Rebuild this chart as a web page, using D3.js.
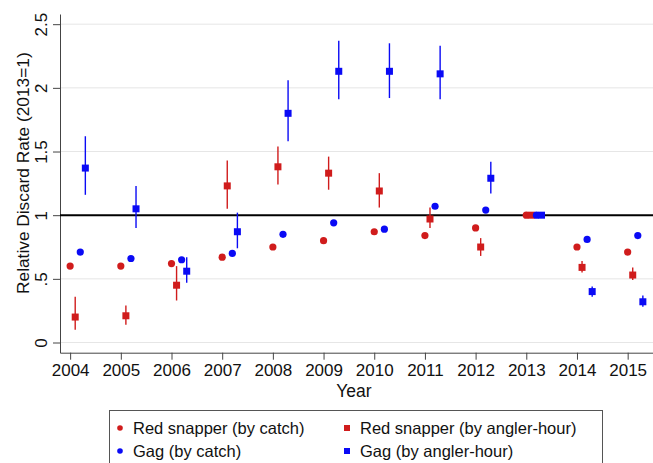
<!DOCTYPE html>
<html><head><meta charset="utf-8">
<script src="https://cdn.jsdelivr.net/npm/d3@7"></script>
<style>body{margin:0;background:#fff}svg{display:block;font-family:"Liberation Sans",Arial,sans-serif}</style>
</head><body><svg id="c" width="653" height="463"></svg>
<script>
const years = [2004,2005,2006,2007,2008,2009,2010,2011,2012,2013,2014,2015];
const yTicks = [0,0.5,1,1.5,2,2.5];
const yTickLabels = ["0",".5","1","1.5","2","2.5"];
const rsCatch = [0.60,0.60,0.62,0.67,0.75,0.80,0.87,0.84,0.90,1,0.75,0.71];
const gagCatch = [0.71,0.66,0.65,0.70,0.85,0.94,0.89,1.07,1.04,1,0.81,0.84];
const rsHour = [0.20,0.21,0.45,1.23,1.38,1.33,1.19,0.97,0.75,1,0.59,0.53];
const rsHourLo = [0.10,0.14,0.33,1.05,1.24,1.20,1.06,0.90,0.68,1,0.55,0.49];
const rsHourHi = [0.36,0.29,0.60,1.43,1.54,1.46,1.33,1.06,0.82,1,0.64,0.59];
const gagHour = [1.37,1.05,0.56,0.87,1.80,2.13,2.13,2.11,1.29,1,0.40,0.32];
const gagHourLo = [1.16,0.90,0.47,0.74,1.58,1.91,1.92,1.91,1.17,1,0.36,0.28];
const gagHourHi = [1.62,1.23,0.67,1.02,2.06,2.37,2.35,2.33,1.42,1,0.44,0.37];
const legendLabels = ["Red snapper (by catch)","Red snapper (by angler-hour)","Gag (by catch)","Gag (by angler-hour)"];

const RED = "#d01c1c", BLUE = "#0a0af5";
const svg = d3.select("#c");
const x = d3.scaleLinear().domain([2003.8, 2015.5]).range([60, 653]);
const y = d3.scaleLinear().domain([-0.08, 2.58]).range([352.7, 14]);

// gridlines
svg.append("g").selectAll("line").data(yTicks.filter(t=>t!==1)).join("line")
  .attr("x1",60).attr("x2",653).attr("y1",d=>y(d)).attr("y2",d=>y(d))
  .attr("stroke","#e6e6e6").attr("stroke-width",1);

// axes
const yAxis = d3.axisLeft(y).tickValues(yTicks).tickFormat((d,i)=>yTickLabels[i]).tickSize(7).tickSizeOuter(0);
const gy = svg.append("g").attr("transform","translate(60,0)").call(yAxis);
gy.select(".domain").attr("stroke","#444");
gy.selectAll(".tick line").attr("stroke","#444");
gy.selectAll(".tick text").attr("font-size",17).attr("fill","#111")
  .attr("transform","rotate(-90)").attr("x",0).attr("y",-13).attr("dy",0)
  .attr("text-anchor","middle");

const xAxis = d3.axisBottom(x).tickValues(years).tickFormat(d3.format("d")).tickSize(7).tickSizeOuter(0);
const gx = svg.append("g").attr("transform","translate(0,352.7)").call(xAxis);
gx.select(".domain").attr("stroke","#444");
gx.selectAll(".tick line").attr("stroke","#444");
gx.selectAll(".tick text").attr("font-size",17).attr("fill","#111").attr("y",11);

// reference line at 1
svg.append("line").attr("x1",60).attr("x2",653).attr("y1",y(1)).attr("y2",y(1))
  .attr("stroke","#000").attr("stroke-width",2);

// titles
svg.append("text").attr("x",x(2009.6)).attr("y",397).attr("text-anchor","middle")
  .attr("font-size",17.5).attr("fill","#111").text("Year");
svg.append("text").attr("transform",`translate(29,${y(1.33)}) rotate(-90)`).attr("text-anchor","middle")
  .attr("font-size",17.3).attr("fill","#111").text("Relative Discard Rate (2013=1)");

// series
function circles(vals, off, color){
  svg.append("g").selectAll("circle").data(years).join("circle")
    .attr("cx",(d)=>x(d+off)).attr("cy",(d,i)=>y(vals[i])).attr("r",3.6).attr("fill",color);
}
function squares(vals, lo, hi, off, color){
  const g = svg.append("g");
  g.selectAll("line").data(years).join("line")
    .attr("x1",d=>x(d+off)).attr("x2",d=>x(d+off))
    .attr("y1",(d,i)=>y(lo[i])).attr("y2",(d,i)=>y(hi[i]))
    .attr("stroke",color).attr("stroke-width",1.4);
  g.selectAll("rect").data(years).join("rect")
    .attr("x",d=>x(d+off)-3.5).attr("y",(d,i)=>y(vals[i])-3.5)
    .attr("width",7).attr("height",7).attr("fill",color);
}
circles(rsCatch, 0, RED);
squares(rsHour, rsHourLo, rsHourHi, 0.1, RED);
circles(gagCatch, 0.2, BLUE);
squares(gagHour, gagHourLo, gagHourHi, 0.3, BLUE);

// legend
const lg = svg.append("g");
lg.append("rect").attr("x",109.5).attr("y",410.5).attr("width",493).attr("height",60)
  .attr("fill","#fff").attr("stroke","#555").attr("stroke-width",1);
const items = [
  {label:legendLabels[0], color:RED, shape:"c", mx:120, tx:133, cy:428},
  {label:legendLabels[1], color:RED, shape:"s", mx:347, tx:360, cy:428},
  {label:legendLabels[2], color:BLUE, shape:"c", mx:120, tx:133, cy:451},
  {label:legendLabels[3], color:BLUE, shape:"s", mx:347, tx:360, cy:451}
];
items.forEach(it=>{
  if(it.shape==="c") lg.append("circle").attr("cx",it.mx).attr("cy",it.cy).attr("r",2.8).attr("fill",it.color);
  else lg.append("rect").attr("x",it.mx-3).attr("y",it.cy-3).attr("width",6).attr("height",6).attr("fill",it.color);
  lg.append("text").attr("x",it.tx).attr("y",it.cy).attr("dy","0.35em").attr("font-size",16.5)
    .attr("fill","#111").text(it.label);
});
</script></body></html>
